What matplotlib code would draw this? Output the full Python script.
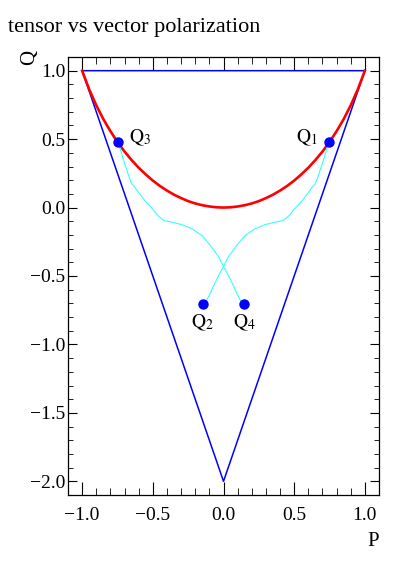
import matplotlib
matplotlib.use('Agg')
import matplotlib.pyplot as plt
from matplotlib.ticker import MultipleLocator, FuncFormatter

plt.rcParams['font.family'] = ['Liberation Serif', 'DejaVu Serif']
plt.rcParams['mathtext.fontset'] = 'stix'

# triangle of allowed (P, Q)
tri_p = [-1.0, 1.0, 0.0, -1.0]
tri_q = [1.0, 1.0, -2.0, 1.0]

# thermal equilibrium curve (red)
red_p = [-1.00, -0.95, -0.90, -0.85, -0.80, -0.75, -0.70, -0.65, -0.60, -0.55, -0.50,
         -0.45, -0.40, -0.35, -0.30, -0.25, -0.20, -0.15, -0.10, -0.05, 0.00,
         0.05, 0.10, 0.15, 0.20, 0.25, 0.30, 0.35, 0.40, 0.45, 0.50,
         0.55, 0.60, 0.65, 0.70, 0.75, 0.80, 0.85, 0.90, 0.95, 1.00]
red_q = [1.000, 0.863, 0.747, 0.646, 0.558, 0.479, 0.409, 0.347, 0.291, 0.242, 0.197,
         0.158, 0.124, 0.094, 0.069, 0.047, 0.030, 0.017, 0.008, 0.002, 0.000,
         0.002, 0.008, 0.017, 0.030, 0.047, 0.069, 0.094, 0.124, 0.158, 0.197,
         0.242, 0.291, 0.347, 0.409, 0.479, 0.558, 0.646, 0.747, 0.863, 1.000]

# cyan paths Q1 -> Q2 and Q3 -> Q4
path12_p = [0.747, 0.733, 0.712, 0.689, 0.666, 0.646, 0.630, 0.599, 0.553, 0.505, 0.465,
            0.423, 0.364, 0.294, 0.223, 0.152, 0.094, 0.035, 0.000, -0.036, -0.071,
            -0.095, -0.118, -0.148]
path12_q = [0.480, 0.436, 0.363, 0.290, 0.217, 0.168, 0.152, 0.108, 0.046, -0.007, -0.058,
            -0.094, -0.107, -0.125, -0.155, -0.205, -0.275, -0.360, -0.430, -0.500, -0.573,
            -0.630, -0.675, -0.705]
path34_p = [-0.747, -0.733, -0.712, -0.689, -0.666, -0.646, -0.630, -0.599, -0.553, -0.505, -0.465,
            -0.423, -0.364, -0.294, -0.223, -0.152, -0.094, -0.035, 0.000, 0.036, 0.071,
            0.095, 0.118, 0.148]
path34_q = path12_q

# labelled points
pt_names = ['1', '2', '3', '4']
pt_p = [0.747, -0.148, -0.747, 0.148]
pt_q = [0.480, -0.705, 0.480, -0.705]

fig = plt.figure(figsize=(3.99, 5.76), dpi=100)
ax = fig.add_axes([68/399, 1-495/576, 311/399, 438/576])

ax.plot(tri_p, tri_q, color='#0000ff', lw=1.1)
ax.plot(red_p, red_q, color='#ff0000', lw=1.9)
ax.plot(path12_p, path12_q, color='#33ffff', lw=0.8)
ax.plot(path34_p, path34_q, color='#33ffff', lw=0.8)
ax.plot(pt_p, pt_q, 'o', color='#0000ff', ms=6.5, ls='none')

lab_off = {'1': (-8, 3, 'right', 'center'), '3': (8, 3, 'left', 'center'),
           '2': (0, -6, 'center', 'top'), '4': (0, -6, 'center', 'top')}
for n, p, q in zip(pt_names, pt_p, pt_q):
    dx, dy, ha, va = lab_off[n]
    ax.annotate(r'$\mathrm{Q}_{%s}$' % n, (p, q), xytext=(dx, dy),
                textcoords='offset points', ha=ha, va=va, fontsize=14)

ax.set_xlim(-1.1, 1.1)
ax.set_ylim(-2.1, 1.1)
fmt = FuncFormatter(lambda v, pos: ('%.1f' % v).replace('-', '\u2212'))
ax.xaxis.set_major_locator(MultipleLocator(0.5))
ax.xaxis.set_minor_locator(MultipleLocator(0.1))
ax.yaxis.set_major_locator(MultipleLocator(0.5))
ax.yaxis.set_minor_locator(MultipleLocator(0.1))
ax.xaxis.set_major_formatter(fmt)
ax.yaxis.set_major_formatter(fmt)
ax.tick_params(axis='x', which='both', direction='in', top=True, labelsize=14, pad=9)
ax.tick_params(axis='x', which='major', length=9.5)
ax.tick_params(axis='x', which='minor', length=4.7)
ax.tick_params(axis='y', which='both', direction='in', right=True, labelsize=14, pad=2)
ax.tick_params(axis='y', which='major', length=6.5)
ax.tick_params(axis='y', which='minor', length=3.3)
for s in ax.spines.values():
    s.set_linewidth(0.9)

ax.text(1.0, -0.085, 'P', transform=ax.transAxes, ha='right', va='top', fontsize=15)
ax.text(-0.125, 1.016, 'Q', transform=ax.transAxes, ha='center', va='top',
        rotation=90, fontsize=15)

fig.text(8/399, 1-32/576, 'tensor vs vector polarization', ha='left', va='baseline', fontsize=16)

fig.savefig('out.png', dpi=100)
